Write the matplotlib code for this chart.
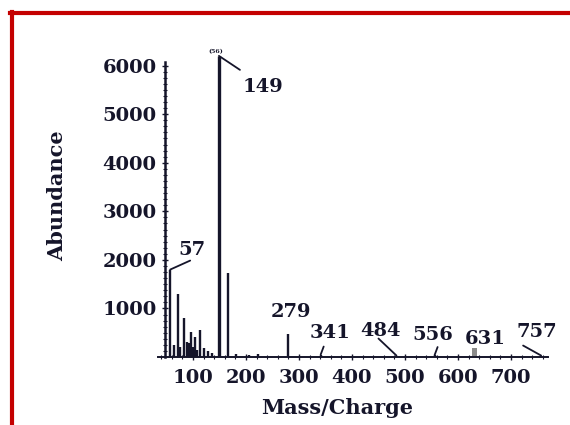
import matplotlib
matplotlib.use("Agg")
import numpy as np
import matplotlib.pyplot as plt
from matplotlib.lines import Line2D
from matplotlib.ticker import MultipleLocator, FixedLocator

# GC-MS spectrum: m/z and abundance of each peak
mz = [57, 65, 71, 76, 83, 88, 93, 97, 100, 104, 108, 113, 121, 129, 135,
      149, 167, 181, 205, 223, 279, 341, 484, 556, 757]
abundance = [1800, 250, 1300, 200, 800, 300, 280, 520, 200, 420, 150, 560, 180, 120, 80,
             6200, 1720, 60, 40, 60, 470, 50, 30, 40, 30]
# broad grey hump at 631
hump_mz = 631
hump_height = 180

# labelled peaks: (m/z, leader offset px, text offset px)
labels = {
    57: ((20, 9), (22, 20)),
    149: ((21, -14), (44, -31)),
    279: (None, (3, 22)),
    341: ((3, 8), (9, 22)),
    484: ((-18, 17), (-16, 25)),
    556: ((3, 8), (-2, 20)),
    631: (None, (11, 9)),
    757: ((-18, 10), (-4, 24)),
}

x_ticks = [100, 200, 300, 400, 500, 600, 700]
y_ticks = [1000, 2000, 3000, 4000, 5000, 6000]

ink = "#15152a"
font = "DejaVu Serif"
px = 0.72  # pixels -> points at 100 dpi

fig = plt.figure(figsize=(5.7, 4.25), dpi=100)
ax = fig.add_axes([158 / 570, 68 / 425, 390 / 570, 306 / 425])
ax.set_xlim(34, 770)
ax.set_ylim(0, 6300)

lws = [2.4 if a > 5000 else 1.7 for a in abundance]
ax.vlines(mz, 0, abundance, color=ink, lw=lws)
ax.bar([hump_mz], [hump_height], width=10, color="#8a8a8a", edgecolor="none")

heights = dict(zip(mz, abundance))
heights[hump_mz] = hump_height
for m, (lead, txt) in labels.items():
    h = heights[m]
    if lead is not None:
        ax.annotate("", xy=(m, h), xytext=(lead[0] * px, lead[1] * px),
                    textcoords="offset points",
                    arrowprops=dict(arrowstyle="-", color=ink, lw=1.3,
                                    shrinkA=0, shrinkB=0))
    ax.annotate(str(m), xy=(m, h), xytext=(txt[0] * px, txt[1] * px),
                textcoords="offset points", ha="center", va="center",
                fontsize=14, fontweight="bold", family=font, color=ink)

ax.annotate("(56)", xy=(149, 6200), xytext=(-3 * px, 1.5 * px),
            textcoords="offset points", ha="center", va="bottom",
            fontsize=4.5, fontweight="bold", family=font, color=ink)

for s in ["top", "right"]:
    ax.spines[s].set_visible(False)
ax.spines["left"].set_position(("data", 48))
ax.spines["left"].set_bounds(0, 6080)
ax.spines["left"].set_color(ink)
ax.spines["bottom"].set_color(ink)
ax.spines["left"].set_linewidth(1.8)
ax.spines["bottom"].set_linewidth(1.4)

ax.set_xticks(x_ticks)
ax.set_yticks(y_ticks)
ax.xaxis.set_minor_locator(MultipleLocator(20))
ax.yaxis.set_minor_locator(FixedLocator(np.arange(125, 6080, 125)))
ax.tick_params(axis="both", which="major", direction="inout", length=5,
               width=1, color=ink, labelcolor=ink, labelsize=14)
ax.tick_params(axis="both", which="minor", direction="inout", length=3,
               width=0.8, color=ink)
ax.tick_params(axis="x", which="major", pad=6)
ax.tick_params(axis="y", which="major", pad=4)
for t in ax.get_xticklabels() + ax.get_yticklabels():
    t.set_family(font)
    t.set_fontweight("bold")

fig.text(337 / 570, 1 - 408 / 425, "Mass/Charge", ha="center", va="center",
         fontsize=15, fontweight="bold", family=font, color=ink)
fig.text(57 / 570, 1 - 196 / 425, "Abundance", ha="center", va="center",
         rotation=90, fontsize=15, fontweight="bold", family=font, color=ink)

# red frame along the top and left edges
red = "#c40000"
fig.add_artist(Line2D([10.5 / 570, 1.0], [1 - 13 / 425] * 2,
                      transform=fig.transFigure, color=red, lw=3))
fig.add_artist(Line2D([12 / 570] * 2, [0, 1 - 11.5 / 425],
                      transform=fig.transFigure, color=red, lw=3))

fig.savefig("out.png", dpi=100)
